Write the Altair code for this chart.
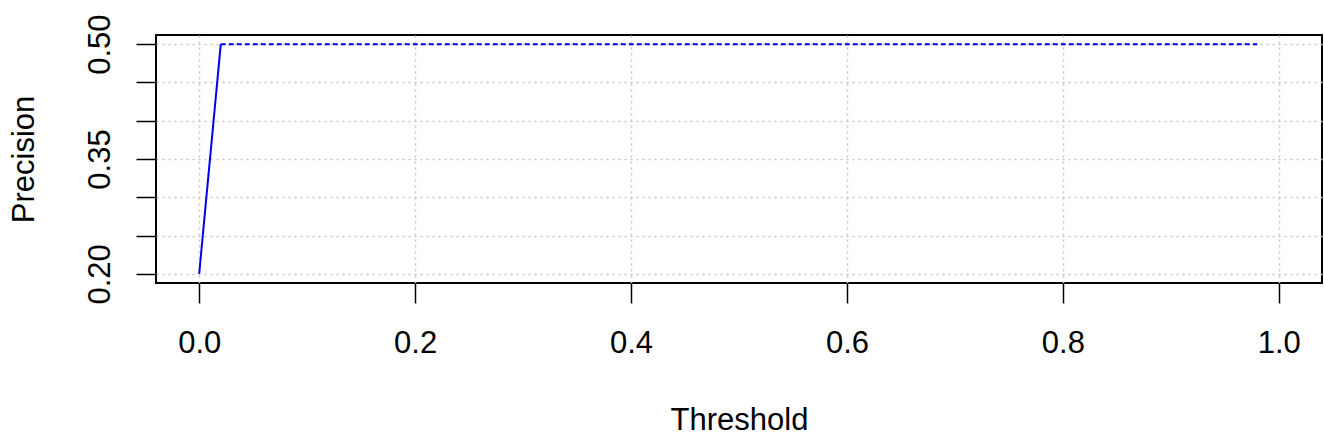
import altair as alt
import pandas as pd

# Precision at each threshold: first step rises from 0.20 to 0.50, then flat
rise_threshold = [0.0, 0.02]
rise_precision = [0.20, 0.50]
flat_threshold = [0.02, 0.98]
flat_precision = [0.50, 0.50]

x_ticks = [0.0, 0.2, 0.4, 0.6, 0.8, 1.0]
y_ticks = [0.20, 0.25, 0.30, 0.35, 0.40, 0.45, 0.50]
y_labeled = [0.20, 0.35, 0.50]

rise = pd.DataFrame({"Threshold": rise_threshold, "Precision": rise_precision})
flat = pd.DataFrame({"Threshold": flat_threshold, "Precision": flat_precision})

FONT = "Liberation Sans"
SIZE = 31

x_scale = alt.Scale(domain=[-0.04, 1.04], nice=False, zero=False)
y_scale = alt.Scale(domain=[0.188, 0.512], nice=False, zero=False)

label_expr = "indexof([0.2, 0.35, 0.5], round(datum.value * 100) / 100) >= 0 ? format(datum.value, '.2f') : ''"

x_axis = alt.Axis(
    values=x_ticks, format=".1f", title="Threshold",
    grid=True, gridColor="#c4c4c4", gridDash=[2, 4], gridWidth=1.5,
    domain=False, ticks=True, tickSize=20, tickColor="black", tickWidth=1.5,
    labelFont=FONT, labelFontSize=SIZE, labelColor="black", labelPadding=25,
    labelFlush=False, labelOverlap=False,
    titleFont=FONT, titleFontSize=SIZE, titleFontWeight="normal", titleColor="black",
    titlePadding=47,
)

y_axis = alt.Axis(
    values=y_ticks, title="Precision", labelExpr=label_expr,
    grid=True, gridColor="#c4c4c4", gridDash=[2, 4], gridWidth=1.5,
    domain=False, ticks=True, tickSize=20, tickColor="black", tickWidth=1.5,
    labelFont=FONT, labelFontSize=SIZE, labelColor="black", labelAngle=-90,
    labelAlign="center", labelBaseline="bottom", labelPadding=20,
    labelFlush=False, labelOverlap=False,
    titleFont=FONT, titleFontSize=SIZE, titleFontWeight="normal", titleColor="black",
    titlePadding=44,
)

solid = alt.Chart(rise).mark_line(color="#0000ee", strokeWidth=2).encode(
    x=alt.X("Threshold:Q", scale=x_scale, axis=x_axis),
    y=alt.Y("Precision:Q", scale=y_scale, axis=y_axis),
)

dashed = alt.Chart(flat).mark_line(color="#0000ee", strokeWidth=2, strokeDash=[5, 3]).encode(
    x=alt.X("Threshold:Q", scale=x_scale),
    y=alt.Y("Precision:Q", scale=y_scale),
)

chart = (
    alt.layer(solid, dashed)
    .properties(
        width=1166, height=248,
        padding={"left": 156, "top": 35, "right": 2, "bottom": 162},
        autosize=alt.AutoSizeParams(type="none"),
        background="white",
    )
    .configure_view(stroke="black", strokeWidth=2)
)

chart.save("out.html", embed_options={"renderer": "svg", "actions": False})
